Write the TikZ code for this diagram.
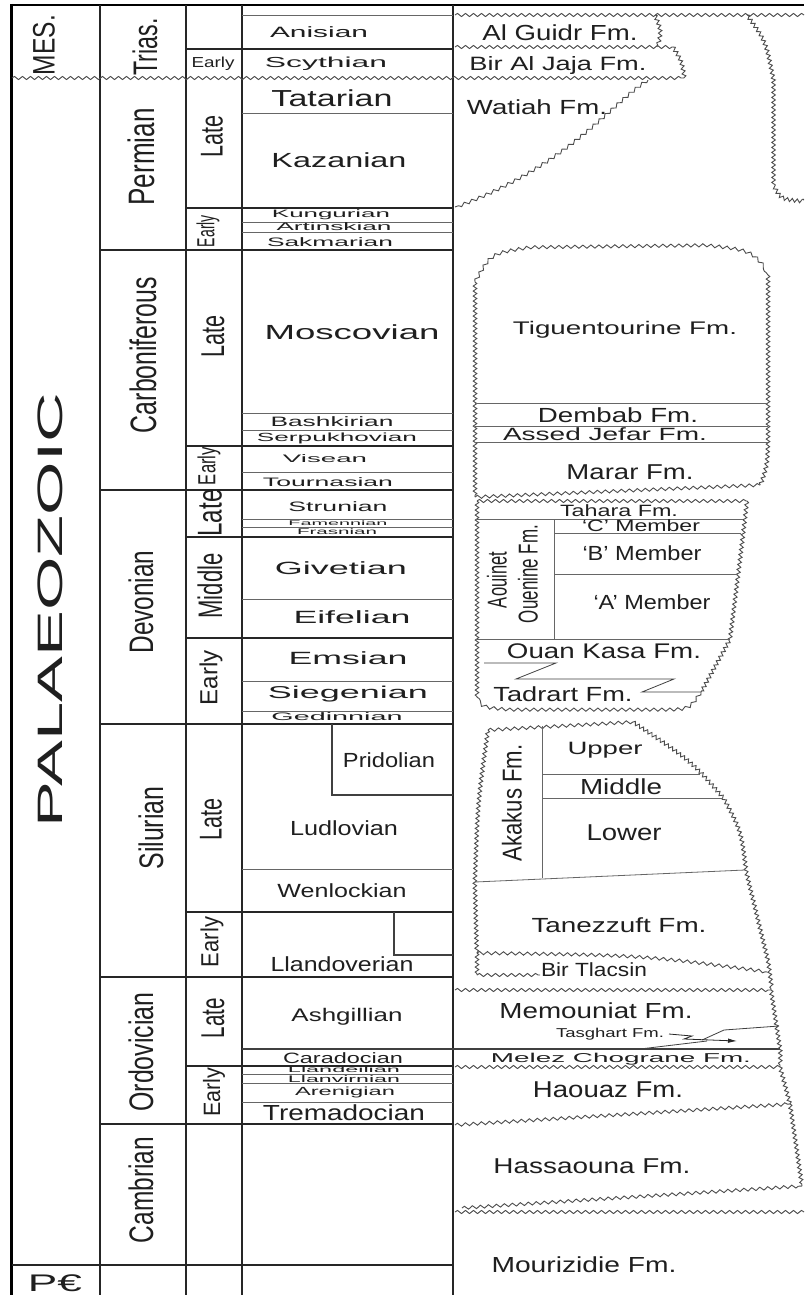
\documentclass[tikz,border=0pt]{standalone}
\usepackage{fontspec}
\setmainfont{Liberation Sans}
\usepackage{graphicx}
\usetikzlibrary{decorations.pathmorphing,arrows.meta}
\newcommand{\fitt}[3]{\resizebox*{#1pt}{#2pt}{#3}}
\tikzset{
  majorln/.style={line width=1.6pt, draw=black!85},
  minorln/.style={line width=0.8pt, draw=black!60},
  medln/.style={line width=1.1pt, draw=black!75},
  wavy/.style={line width=0.9pt, draw=black!70, decorate, decoration={snake, amplitude=1.6pt, segment length=8pt}},
  vwavy/.style={line width=0.9pt, draw=black!70, decorate, decoration={snake, amplitude=1.8pt, segment length=5pt}},
  lab/.style={inner sep=0pt, outer sep=0pt, text=black!88},
  rlab/.style={lab, rotate=90},
}
\begin{document}
\begin{tikzpicture}[x=1pt,y=-1pt]
\useasboundingbox (0,0) rectangle (804,1295);
\fill[white] (0,0) rectangle (804,1295);

% ---------- frame and column dividers ----------
\draw[line width=3pt, draw=black] (11.5,4) -- (11.5,1295);
\draw[line width=2.5pt, draw=black] (10,5) -- (804,5);
\foreach \xx in {100,186,242,453} \draw[majorln] (\xx,5) -- (\xx,1295);

% ---------- time-scale boundaries ----------
\draw[minorln] (242,15) -- (453,15);
\draw[majorln] (186,49) -- (453,49);
\draw[wavy] (12,78) -- (684,78);
\draw[minorln] (242,113) -- (453,113);
\draw[majorln] (186,208) -- (453,208);
\draw[minorln] (242,222) -- (453,222);
\draw[minorln] (242,232) -- (453,232);
\draw[majorln] (100,250) -- (453,250);
\draw[minorln] (242,413) -- (453,413);
\draw[minorln] (242,430) -- (453,430);
\draw[majorln] (186,446) -- (453,446);
\draw[minorln] (242,472) -- (453,472);
\draw[majorln] (100,490) -- (453,490);
\draw[minorln] (242,519) -- (453,519);
\draw[minorln] (242,527) -- (453,527);
\draw[majorln] (186,537) -- (453,537);
\draw[minorln] (242,599) -- (453,599);
\draw[majorln] (186,638) -- (453,638);
\draw[minorln] (242,681) -- (453,681);
\draw[minorln] (242,711) -- (453,711);
\draw[majorln] (100,724) -- (453,724);
\draw[medln] (332,724) -- (332,795) -- (453,795);
\draw[minorln] (242,869) -- (453,869);
\draw[majorln] (186,912) -- (453,912);
\draw[medln] (394,912) -- (394,955) -- (453,955);
\draw[majorln] (100,977) -- (453,977);
\draw[medln] (242,1049) -- (780,1049);
\draw[majorln] (186,1066) -- (453,1066);
\draw[minorln] (242,1074) -- (453,1074);
\draw[minorln] (242,1083) -- (453,1083);
\draw[minorln] (242,1102) -- (453,1102);
\draw[majorln] (100,1124) -- (453,1124);
\draw[majorln] (12,1265) -- (453,1265);

% ---------- formations (column 5) ----------
\draw[wavy] (455,15) -- (804,15);
\draw[vwavy] (655,15) .. controls (661,30) .. (657,47);
\draw[wavy] (455,47) -- (673,47);
\draw[vwavy] (673,47) .. controls (681,60) .. (684,78);
\draw[wavy] (648,80) .. controls (610,105) and (570,165) .. (455,207);
\draw[vwavy] (747,15) .. controls (765,40) .. (773,80) -- (773,185) .. controls (780,198) .. (804,200);

% Tiguentourine box
\draw[wavy] (475,282) .. controls (490,255) .. (530,249) -- (705,247) .. controls (750,252) .. (768,275);
\draw[vwavy] (768,275) -- (768,442) .. controls (767,465) .. (760,485);
\draw[vwavy] (475,282) -- (475,497);
\draw[minorln] (475,403) -- (768,403);
\draw[minorln] (475,426) -- (768,426);
\draw[minorln] (475,442) -- (768,442);
\draw[wavy] (475,497) -- (760,485);

% Tahara / Aouinet Ouenine / Ouan Kasa / Tadrart
\draw[wavy] (477,501) -- (747,501);
\draw[vwavy] (747,501) .. controls (740,560) .. (730,639) -- (701,692);
\draw[vwavy] (477,501) -- (477,697);
\draw[wavy] (701,692) .. controls (690,708) .. (660,708) -- (510,708) .. controls (485,706) .. (477,697);
\draw[minorln] (477,519) -- (743,519);
\draw[minorln] (554,533) -- (741,533);
\draw[minorln] (554,574) -- (737,574);
\draw[minorln] (477,639) -- (730,639);
\draw[minorln] (554,519) -- (554,639);
\draw[line width=0.8pt, draw=black!75] (484,663) -- (556,663) -- (516,679) -- (674,679) -- (642,692) -- (701,692);

% Akakus / Tanezzuft
\draw[wavy] (488,730) -- (633,722);
\draw[vwavy] (633,722) .. controls (690,760) .. (723,798) .. controls (740,830) .. (745,870) -- (767,960) -- (771,990);
\draw[vwavy] (488,730) .. controls (478,800) .. (475,882) -- (477,953);
\draw[minorln] (542,726) -- (542,878);
\draw[minorln] (542,774) -- (700,774);
\draw[minorln] (542,798) -- (723,798);
\draw[minorln] (475,882) -- (745,870);

% Bir Tlacsin
\draw[wavy] (477,953) .. controls (640,955) .. (767,972);
\draw[vwavy] (477,953) -- (477,975);
\draw[wavy] (477,975) -- (540,975);

% Memouniat / Tasghart / Melez Chograne
\draw[wavy] (455,990) -- (771,990);
\draw[vwavy] (771,990) -- (780,1049) -- (780,1067);
\draw[line width=0.8pt, draw=black!75] (779,1026) -- (724,1030) -- (702,1040);
\draw[line width=0.8pt, draw=black!75] (640,1049) -- (707,1041);
\draw[line width=0.8pt, draw=black!85, -{Latex[length=9pt,width=4.5pt]}] (669,1034) -- (692,1036) -- (684,1039) -- (737,1041);
\draw[wavy] (455,1067) -- (780,1067);

% Haouaz / Hassaouna / Mourizidie
\draw[vwavy] (780,1067) -- (790,1104);
\draw[wavy] (455,1125) -- (790,1104);
\draw[vwavy] (790,1104) -- (802,1186);
\draw[wavy] (462,1208) -- (802,1186);
\draw[wavy] (455,1212) -- (804,1212);

% ---------- era / period / epoch labels ----------
\node[rlab] (mes) at (44,45) {\fitt{60}{22}{MES.}};
\node[rlab] (pal) at (50,610) {\fitt{434}{25}{PALAEOZOIC}};
\node[lab] (pc) at (55,1283) {\fitt{54}{17}{P€}};

\node[rlab] (trias) at (145,47) {\fitt{57}{25}{Trias.}};
\node[rlab] (perm) at (141,157) {\fitt{97}{27}{Permian}};
\node[rlab] (carb) at (143,355) {\fitt{156}{27}{Carboniferous}};
\node[rlab] (dev) at (141,602) {\fitt{103}{25}{Devonian}};
\node[rlab] (sil) at (151,828) {\fitt{83}{25}{Silurian}};
\node[rlab] (ord) at (141,1052) {\fitt{119}{25}{Ordovician}};
\node[rlab] (camb) at (141,1190) {\fitt{106}{25}{Cambrian}};

\node[lab] (etr) at (213,64) {\fitt{43}{13.5}{Early}};
\node[rlab] (lpe) at (212,136) {\fitt{42}{22}{Late}};
\node[rlab] (epe) at (208,231) {\fitt{32}{23}{Early}};
\node[rlab] (lca) at (213,336) {\fitt{42}{23}{Late}};
\node[rlab] (eca) at (209,466) {\fitt{38}{23}{Early}};
\node[rlab] (lde) at (210,513) {\fitt{47}{24}{Late}};
\node[rlab] (mde) at (210,586) {\fitt{65}{25}{Middle}};
\node[rlab] (ede) at (211,678) {\fitt{55}{23}{Early}};
\node[rlab] (lsi) at (211,819) {\fitt{42}{22}{Late}};
\node[rlab] (esi) at (212,942) {\fitt{50}{23}{Early}};
\node[rlab] (lor) at (213,1018) {\fitt{40}{23}{Late}};
\node[rlab] (eor) at (214,1092) {\fitt{49}{22}{Early}};

% ---------- stages ----------
\node[lab] (anis) at (319,32) {\fitt{98}{11}{Anisian}};
\node[lab] (scyt) at (326,64) {\fitt{122}{13.5}{Scythian}};
\node[lab] (tata) at (332,98) {\fitt{121}{17}{Tatarian}};
\node[lab] (kaza) at (339,160) {\fitt{135}{15}{Kazanian}};
\node[lab] (kung) at (331,215) {\fitt{118}{10}{Kungurian}};
\node[lab] (arti) at (334,227) {\fitt{115}{8}{Artinskian}};
\node[lab] (sakm) at (330,242) {\fitt{126}{9}{Sakmarian}};
\node[lab] (mosc) at (352,332) {\fitt{175}{15}{Moscovian}};
\node[lab] (bash) at (332,422) {\fitt{123}{10}{Bashkirian}};
\node[lab] (serp) at (337,438) {\fitt{160}{11}{Serpukhovian}};
\node[lab] (vise) at (325,459) {\fitt{84}{8}{Visean}};
\node[lab] (tour) at (328,482) {\fitt{130}{9}{Tournasian}};
\node[lab] (stru) at (338,507) {\fitt{99}{10}{Strunian}};
\node[lab] (fame) at (338,523.5) {\fitt{99}{5}{Famennian}};
\node[lab] (fras) at (337,532) {\fitt{80}{6}{Frasnian}};
\node[lab] (give) at (341,568) {\fitt{132}{13}{Givetian}};
\node[lab] (eife) at (352,617) {\fitt{117}{13}{Eifelian}};
\node[lab] (emsi) at (348,658) {\fitt{119}{13}{Emsian}};
\node[lab] (sieg) at (348,694) {\fitt{160}{16}{Siegenian}};
\node[lab] (gedi) at (337,717) {\fitt{131}{8}{Gedinnian}};
\node[lab] (prid) at (389,760) {\fitt{92}{15}{Pridolian}};
\node[lab] (ludl) at (344,828) {\fitt{108}{15}{Ludlovian}};
\node[lab] (wenl) at (342,891) {\fitt{129}{14}{Wenlockian}};
\node[lab] (llan) at (342,964) {\fitt{143}{15}{Llandoverian}};
\node[lab] (ashg) at (347,1017) {\fitt{111}{17}{Ashgillian}};
\node[lab] (cara) at (343,1058) {\fitt{120}{11}{Caradocian}};
\node[lab] (llde) at (344,1070) {\fitt{112}{6}{Llandeilian}};
\node[lab] (llvi) at (344,1079) {\fitt{112}{7}{Llanvirnian}};
\node[lab] (aren) at (345,1092) {\fitt{100}{11}{Arenigian}};
\node[lab] (trem) at (344,1113) {\fitt{162}{16}{Tremadocian}};

% ---------- formation labels ----------
\node[lab] (f1) at (560,33) {\fitt{155}{16}{Al Guidr Fm.}};
\node[lab] (f2) at (558,66) {\fitt{177}{18}{Bir Al Jaja Fm.}};
\node[lab] (f3) at (537,107) {\fitt{140}{15}{Watiah Fm.}};
\node[lab] (f4) at (625,330) {\fitt{224}{17}{Tiguentourine Fm.}};
\node[lab] (f5) at (618,415) {\fitt{160}{15}{Dembab Fm.}};
\node[lab] (f6) at (605,434) {\fitt{204}{13}{Assed Jefar Fm.}};
\node[lab] (f7) at (630,472) {\fitt{127}{15}{Marar Fm.}};
\node[lab] (f8) at (619,511) {\fitt{118}{12}{Tahara Fm.}};
\node[lab] (f9) at (641,526) {\fitt{118}{12}{‘C’ Member}};
\node[lab] (f10) at (642,553) {\fitt{119}{15}{‘B’ Member}};
\node[lab] (f11) at (652,602) {\fitt{117}{15}{‘A’ Member}};
\node[rlab] (f12) at (497,580) {\fitt{56}{20}{Aouinet}};
\node[rlab] (f13) at (528,574) {\fitt{98}{20}{Ouenine Fm.}};
\node[lab] (f14) at (604,651) {\fitt{194}{15}{Ouan Kasa Fm.}};
\node[lab] (f15) at (563,694) {\fitt{139}{15}{Tadrart Fm.}};
\node[rlab] (f16) at (512,803) {\fitt{117}{20}{Akakus Fm.}};
\node[lab] (f17) at (605,750) {\fitt{75}{16}{Upper}};
\node[lab] (f18) at (621,787) {\fitt{82}{16}{Middle}};
\node[lab] (f19) at (624,833) {\fitt{75}{16}{Lower}};
\node[lab] (f20) at (619,925) {\fitt{175}{15}{Tanezzuft Fm.}};
\node[lab] (f21) at (594,970) {\fitt{106}{14}{Bir Tlacsin}};
\node[lab] (f22) at (596,1011) {\fitt{193}{16}{Memouniat Fm.}};
\node[lab] (f23) at (610,1034) {\fitt{108}{12}{Tasghart Fm.}};
\node[lab] (f24) at (621,1059) {\fitt{260}{12}{Melez Chograne Fm.}};
\node[lab] (f25) at (608,1090) {\fitt{150}{16}{Haouaz Fm.}};
\node[lab] (f26) at (592,1166) {\fitt{197}{15}{Hassaouna Fm.}};
\node[lab] (f27) at (584,1265) {\fitt{185}{16}{Mourizidie Fm.}};
\end{tikzpicture}
\end{document}
